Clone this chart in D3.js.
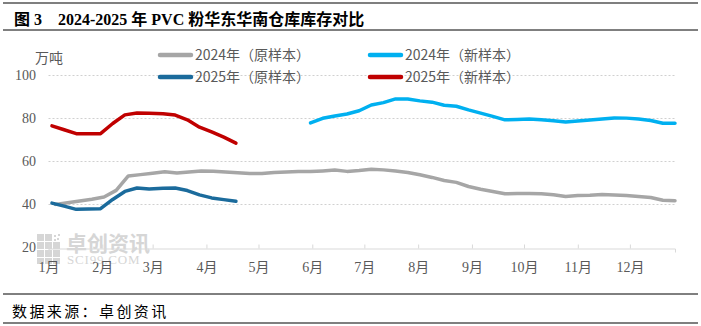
<!DOCTYPE html>
<html><head><meta charset="utf-8">
<script src="https://cdn.jsdelivr.net/npm/d3@7"></script>
<style>body{margin:0;background:#fff}svg{display:block}</style>
</head><body><svg id="c" width="701" height="326"></svg>
<script>
const titleText = "图 3\u00A0\u00A0\u00A0\u00A02024-2025 年 PVC 粉华东华南仓库库存对比";
const sourceText = "数据来源：卓创资讯";
const unitLabel = "万吨";
const monthLabels = ["1月","2月","3月","4月","5月","6月","7月","8月","9月","10月","11月","12月"];
const yTicks = [20,40,60,80,100];
const seriesNames = ["2024年（原样本）","2024年（新样本）","2025年（原样本）","2025年（新样本）"];
const seriesColors = ["#A6A6A6","#00B0F0","#1B6B9C","#C00000"];
// weekly (Friday) data
const start2024 = "2024-01-05";   // first week of 2024 series
const start2024New = "2024-05-31"; // first week of 2024 new sample
const start2025 = "2025-01-03";   // first week of 2025 series
const v2024Orig = [40.0,40.8,41.6,42.4,43.4,46.5,53.2,53.8,54.4,55.1,54.5,55.0,55.5,55.4,55.0,54.7,54.3,54.3,54.8,55.0,
  55.2,55.2,55.5,55.9,55.3,55.7,56.3,56.0,55.5,54.8,53.7,52.5,51.1,50.2,48.3,47.0,46.0,44.9,45.0,45.1,
  44.9,44.5,43.7,44.1,44.2,44.6,44.4,44.1,43.7,43.2,41.9,41.7];
const v2024New = [77.8,79.9,81.0,81.9,83.4,86.1,87.2,88.9,88.9,88.0,87.4,86.0,85.5,83.8,82.3,80.8,79.2,79.4,79.6,79.2,
  78.8,78.2,78.7,79.1,79.6,80.1,80.0,79.6,78.9,77.6,77.6];
const v2025Orig = [40.6,39.2,37.7,37.8,38.0,42.3,46.0,47.6,47.1,47.5,47.6,46.4,44.4,43.0,42.2,41.4];
const v2025New = [76.4,74.6,72.8,72.8,72.8,77.5,81.5,82.4,82.3,82.0,81.4,79.2,75.8,73.6,71.2,68.4];

const parse = d3.timeParse("%Y-%m-%d");
function weekly(startStr, vals, shiftYear){
  const s = parse(startStr);
  return vals.map((v,i)=>{
    let d = d3.timeWeek.offset(s, i);
    if (shiftYear) d = new Date(2024, d.getMonth(), d.getDate());
    return {d, v};
  });
}
const series = [
  weekly(start2024, v2024Orig, false),
  weekly(start2024New, v2024New, false),
  weekly(start2025, v2025Orig, true),
  weekly(start2025, v2025New, true)
];

const svg = d3.select("#c");
svg.append("rect").attr("width",701).attr("height",326).attr("fill","#fff");

// frame lines
[[3,1.2],[30,1],[294,1],[323,1.2]].forEach(([y,w])=>{
  svg.append("line").attr("x1",3).attr("x2",698).attr("y1",y).attr("y2",y)
    .attr("stroke","#000").attr("stroke-width",w);
});
svg.append("text").attr("x",14).attr("y",24.5)
  .attr("font-family","'Liberation Serif','Noto Sans CJK SC'").attr("font-weight","bold")
  .attr("font-size",16).attr("fill","#000").text(titleText);
svg.append("text").attr("x",12).attr("y",317)
  .attr("font-family","'Noto Sans CJK SC'").attr("font-size",15).attr("letter-spacing",2.4)
  .attr("fill","#000").text(sourceText);

// watermark
const wm = svg.append("g").attr("fill","#d6d6d6");
[[37,234,7,7],[45,234,7,7],[37,242,7,7],[45,242,7,7],[37,250,7,7],[45,250,7,7],[53,250,7,7],[53,242,7,7],[37,258,7,6],[45,258,7,6],[53,258,7,6]].forEach(r=>{
  wm.append("rect").attr("x",r[0]).attr("y",r[1]).attr("width",r[2]).attr("height",r[3]);
});
[[54,235],[57,238],[54,239],[58,234]].forEach(p=>wm.append("rect").attr("x",p[0]).attr("y",p[1]).attr("width",2).attr("height",2));
wm.append("text").attr("x",66).attr("y",251).attr("font-family","'Noto Sans CJK SC'").attr("font-size",21)
  .attr("font-weight","bold").text("卓创资讯");
wm.append("text").attr("x",67).attr("y",264).attr("font-family","'Liberation Serif'").attr("font-size",13)
  .attr("letter-spacing",0.8).text("SCI99.COM");

// scales
const x = d3.scaleTime().domain([new Date(2024,0,1), new Date(2024,11,27)]).range([48.5,675]);
const y = d3.scaleLinear().domain([20,100]).range([247.5,75]);

// grid
svg.append("g").selectAll("line").data(yTicks.filter(t=>t>20)).join("line")
  .attr("x1",48.5).attr("x2",675).attr("y1",d=>Math.round(y(d))+0.5).attr("y2",d=>Math.round(y(d))+0.5)
  .attr("stroke","#d0d0d0").attr("stroke-width",1).attr("stroke-dasharray","2,2");

// x axis
const monthStarts = d3.range(12).map(m=>new Date(2024,m,1));
const xAxis = d3.axisBottom(x).tickValues(monthStarts).tickSize(4).tickFormat((d,i)=>monthLabels[i]);
const gx = svg.append("g").attr("transform",`translate(0,${Math.round(y(20))+0.5})`).call(xAxis);
gx.select(".domain").attr("stroke","#d9d9d9");
gx.selectAll(".tick line").attr("stroke","#d9d9d9").attr("y1",-4).attr("y2",0);
gx.selectAll(".tick text").attr("dy",0).attr("y",23.5)
  .attr("font-family","'Liberation Serif','Noto Sans CJK SC'").attr("font-size",14).attr("fill","#595959");

// y axis labels
const yAxis = d3.axisLeft(y).tickValues(yTicks).tickSize(0).tickPadding(0);
const gy = svg.append("g").attr("transform","translate(36,0)").call(yAxis);
gy.select(".domain").remove();
gy.selectAll(".tick text").attr("font-family","'Liberation Serif'").attr("font-size",14).attr("fill","#595959");
svg.append("text").attr("x",35).attr("y",63).attr("font-family","'Noto Sans CJK SC'").attr("font-size",14)
  .attr("fill","#595959").text(unitLabel);

// lines
const line = d3.line().x(d=>x(d.d)).y(d=>y(d.v)).curve(d3.curveLinear);
series.forEach((s,i)=>{
  svg.append("path").datum(s).attr("d",line).attr("fill","none")
    .attr("stroke",seriesColors[i]).attr("stroke-width",3.5)
    .attr("stroke-linejoin","round").attr("stroke-linecap","round");
});

// legend
const legPos = [[158,55],[368,55],[158,77],[368,77]];
seriesNames.forEach((n,i)=>{
  const [lx,ly] = legPos[i];
  svg.append("line").attr("x1",lx+2).attr("x2",lx+33).attr("y1",ly).attr("y2",ly)
    .attr("stroke",seriesColors[i]).attr("stroke-width",4.5).attr("stroke-linecap","round");
  svg.append("text").attr("x",lx+37).attr("y",ly+5).attr("font-family","'Noto Sans CJK SC'")
    .attr("font-size",14).attr("fill","#595959").text(n);
});
</script></body></html>
